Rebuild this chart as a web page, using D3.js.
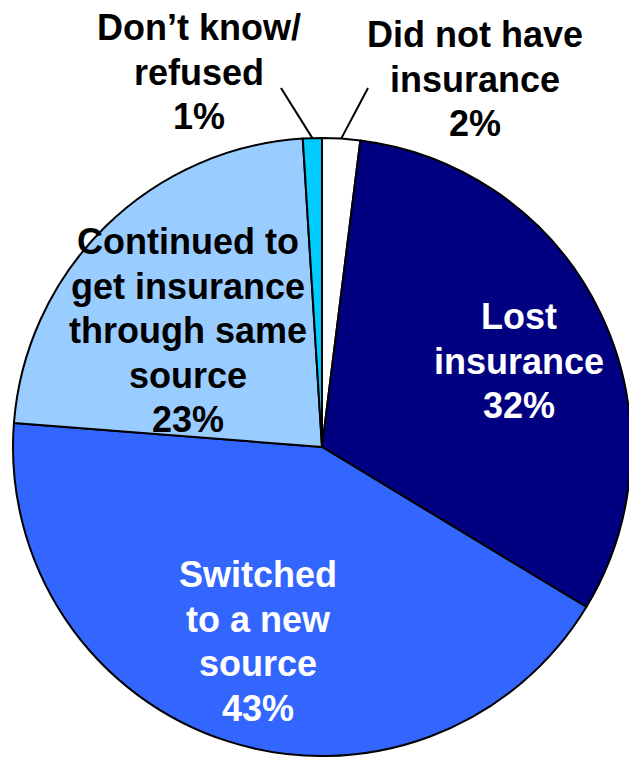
<!DOCTYPE html>
<html>
<head>
<meta charset="utf-8">
<script src="https://cdn.jsdelivr.net/npm/d3@7"></script>
<style>
  body { margin: 0; background: #fff; }
  text { font-family: "Liberation Sans", Arial, sans-serif; font-weight: bold; }
</style>
</head>
<body>
<svg id="chart"></svg>
<script>
var width = 629;
var height = 757;

// Slices, clockwise from 12 o'clock
var categories = ["Did not have insurance", "Lost insurance", "Switched to a new source",
                  "Continued to get insurance through same source", "Don\u2019t know/ refused"];
var values = [2, 32, 43, 23, 1];
var colors = ["#ffffff", "#000080", "#3366ff", "#99ccff", "#00ccff"];

// Label lines for each slice
var labelLines = [
  ["Did not have", "insurance", "2%"],
  ["Lost", "insurance", "32%"],
  ["Switched", "to a new", "source", "43%"],
  ["Continued to", "get insurance", "through same", "source", "23%"],
  ["Don\u2019t know/", "refused", "1%"]
];
var labelColors = ["#000", "#fff", "#fff", "#000", "#000"];

var cx = 322, cy = 447, radius = 309;
var lineH = 44.5;

// Where each label block sits (first baseline) and whether it needs a leader line
var labelPos = [
  { x: 475, y: 47, leader: [368, 88] },
  { x: 519, y: 329 },
  { x: 258, y: 587 },
  { x: 188, y: 254 },
  { x: 199, y: 40, leader: [281, 88] }
];

var svg = d3.select("#chart").attr("width", width).attr("height", height);

var data = categories.map(function(c, i) { return { name: c, value: values[i], idx: i }; });

var pie = d3.pie().sort(null).value(function(d) { return d.value; });
var arc = d3.arc().innerRadius(0).outerRadius(radius);

var g = svg.append("g").attr("transform", "translate(" + cx + "," + cy + ")");

var arcs = pie(data);

g.selectAll("path.slice")
  .data(arcs)
  .enter().append("path")
  .attr("class", "slice")
  .attr("d", arc)
  .attr("fill", function(d) { return colors[d.data.idx]; })
  .attr("stroke", "#000")
  .attr("stroke-width", 2)
  .attr("stroke-linejoin", "round");

// Leader lines from the slice edge out to the small-slice labels
arcs.forEach(function(d) {
  var p = labelPos[d.data.idx];
  if (!p.leader) return;
  var mid = (d.startAngle + d.endAngle) / 2;
  var ex = cx + radius * Math.sin(mid);
  var ey = cy - radius * Math.cos(mid);
  svg.append("line")
    .attr("x1", ex).attr("y1", ey)
    .attr("x2", p.leader[0]).attr("y2", p.leader[1])
    .attr("stroke", "#000")
    .attr("stroke-width", 2);
});

// Labels
labelLines.forEach(function(lines, i) {
  var p = labelPos[i];
  var t = svg.append("text")
    .attr("text-anchor", "middle")
    .attr("font-size", 36)
    .attr("fill", labelColors[i]);
  lines.forEach(function(s, j) {
    t.append("tspan").attr("x", p.x).attr("y", p.y + j * lineH).text(s);
  });
});
</script>
</body>
</html>
